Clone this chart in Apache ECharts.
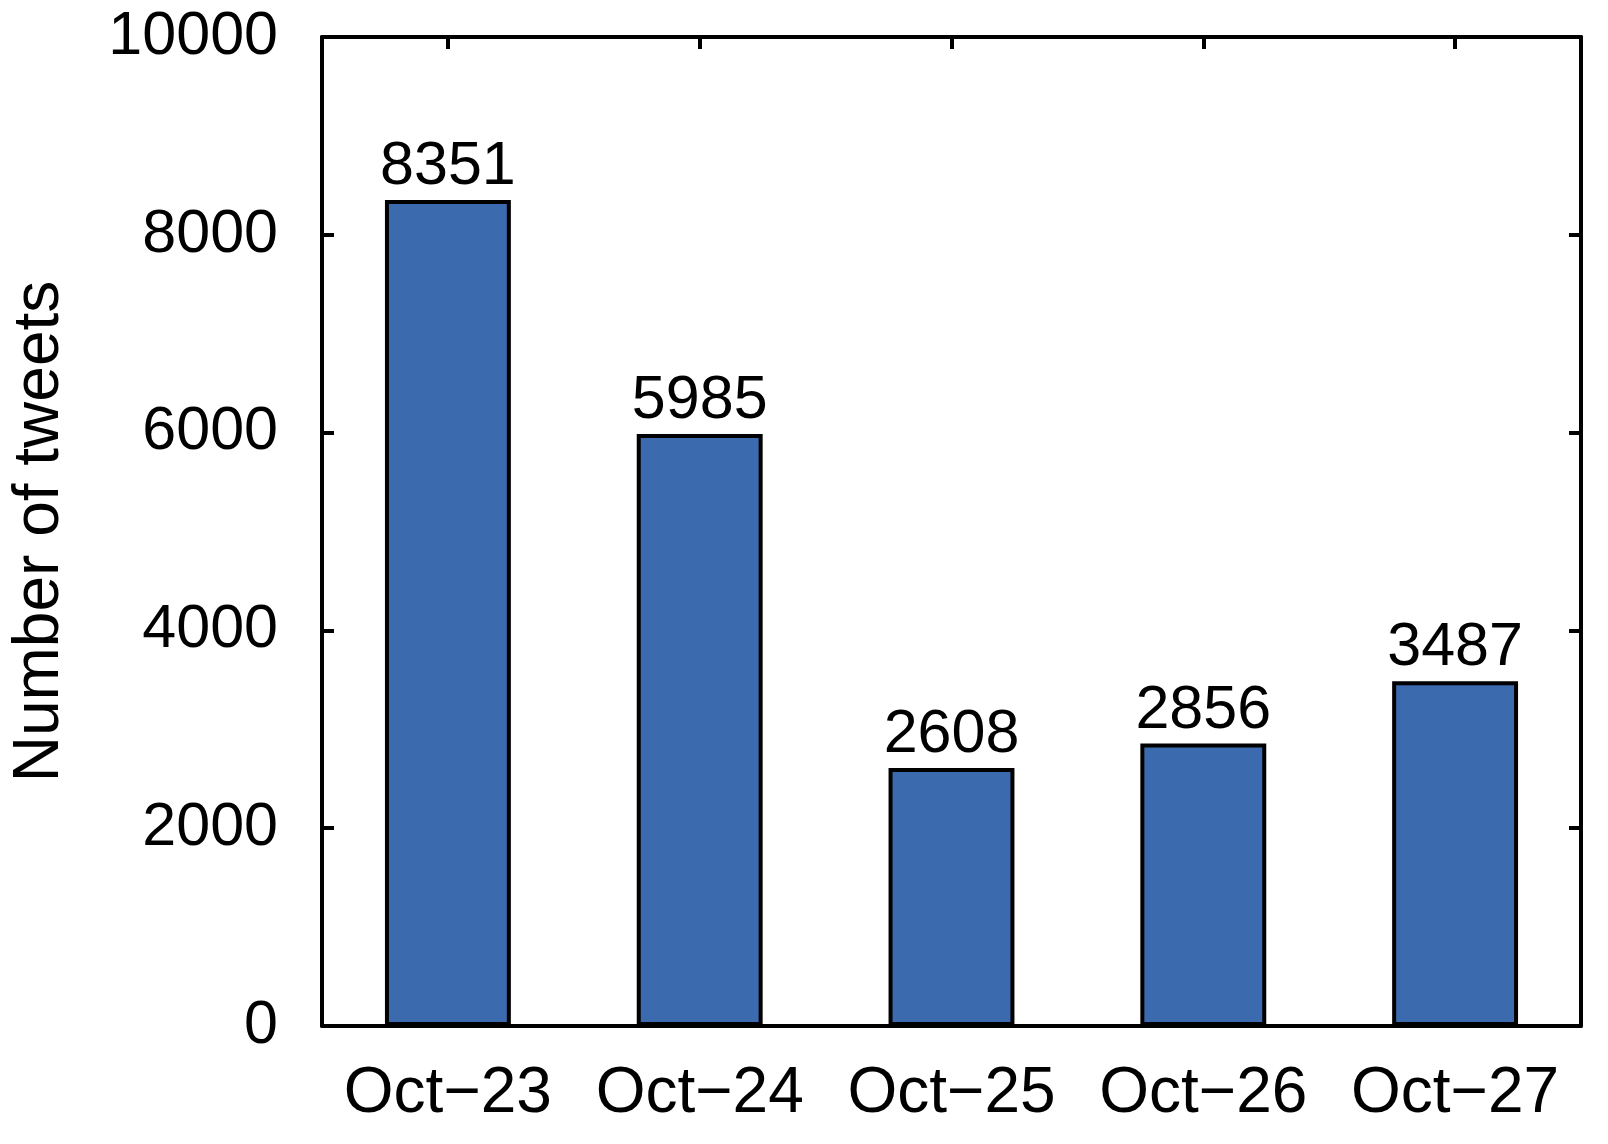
<!DOCTYPE html>
<html>
<head>
<meta charset="utf-8">
<script src="https://cdn.jsdelivr.net/npm/echarts@6/dist/echarts.min.js"></script>
<style>
  html, body { margin: 0; padding: 0; background: #fff; }
  #main { width: 1608px; height: 1144px; }
</style>
</head>
<body>
<div id="main"></div>
<script>
// data
var days = ['Oct\u221223', 'Oct\u221224', 'Oct\u221225', 'Oct\u221226', 'Oct\u221227'];
var tweets = [8351, 5985, 2608, 2856, 3487];
var yTicks = [0, 2000, 4000, 6000, 8000, 10000];

var font = 'Liberation Sans, Arial, Helvetica, sans-serif';
var chart = echarts.init(document.getElementById('main'));

var lineStyle = { color: '#000', width: 4 };

var option = {
  animation: false,
  backgroundColor: '#fff',
  grid: { left: 311, top: 37, right: 27, bottom: 118, containLabel: false },
  xAxis: [
    {
      type: 'category',
      data: days,
      position: 'bottom',
      axisLine: { show: true, onZero: false, lineStyle: lineStyle },
      axisTick: { show: false },
      axisLabel: { color: '#000', fontSize: 64, fontFamily: font, margin: 36, interval: 0 }
    },
    {
      type: 'category',
      data: days,
      position: 'top',
      axisLine: { show: true, onZero: false, lineStyle: lineStyle },
      axisTick: { show: true, inside: true, alignWithLabel: true, interval: 0, length: 12, lineStyle: { color: '#000', width: 4 } },
      axisLabel: { show: false }
    }
  ],
  yAxis: [
    {
      type: 'value',
      min: yTicks[0],
      max: yTicks[yTicks.length - 1],
      interval: 2000,
      position: 'left',
      name: 'Number of tweets',
      nameLocation: 'middle',
      nameGap: 250,
      nameTextStyle: { color: '#000', fontSize: 64, fontFamily: font },
      axisLine: { show: true, onZero: false, lineStyle: lineStyle },
      axisTick: { show: true, inside: true, length: 12, lineStyle: { color: '#000', width: 4 } },
      axisLabel: { color: '#000', fontSize: 61, fontFamily: font, margin: 44, formatter: function (v) { return String(v); } },
      splitLine: { show: false }
    },
    {
      type: 'value',
      min: yTicks[0],
      max: yTicks[yTicks.length - 1],
      interval: 2000,
      position: 'right',
      axisLine: { show: true, onZero: false, lineStyle: lineStyle },
      axisTick: { show: true, inside: true, length: 12, lineStyle: { color: '#000', width: 4 } },
      axisLabel: { show: false },
      splitLine: { show: false }
    }
  ],
  series: [
    {
      type: 'bar',
      data: tweets,
      xAxisIndex: 0,
      yAxisIndex: 0,
      barWidth: '50%',
      itemStyle: { color: '#3b6aaf', borderColor: '#000', borderWidth: 4 },
      label: {
        show: true,
        position: 'top',
        distance: 2,
        color: '#000',
        fontSize: 61,
        fontFamily: font
      }
    }
  ]
};

chart.setOption(option);
</script>
</body>
</html>
